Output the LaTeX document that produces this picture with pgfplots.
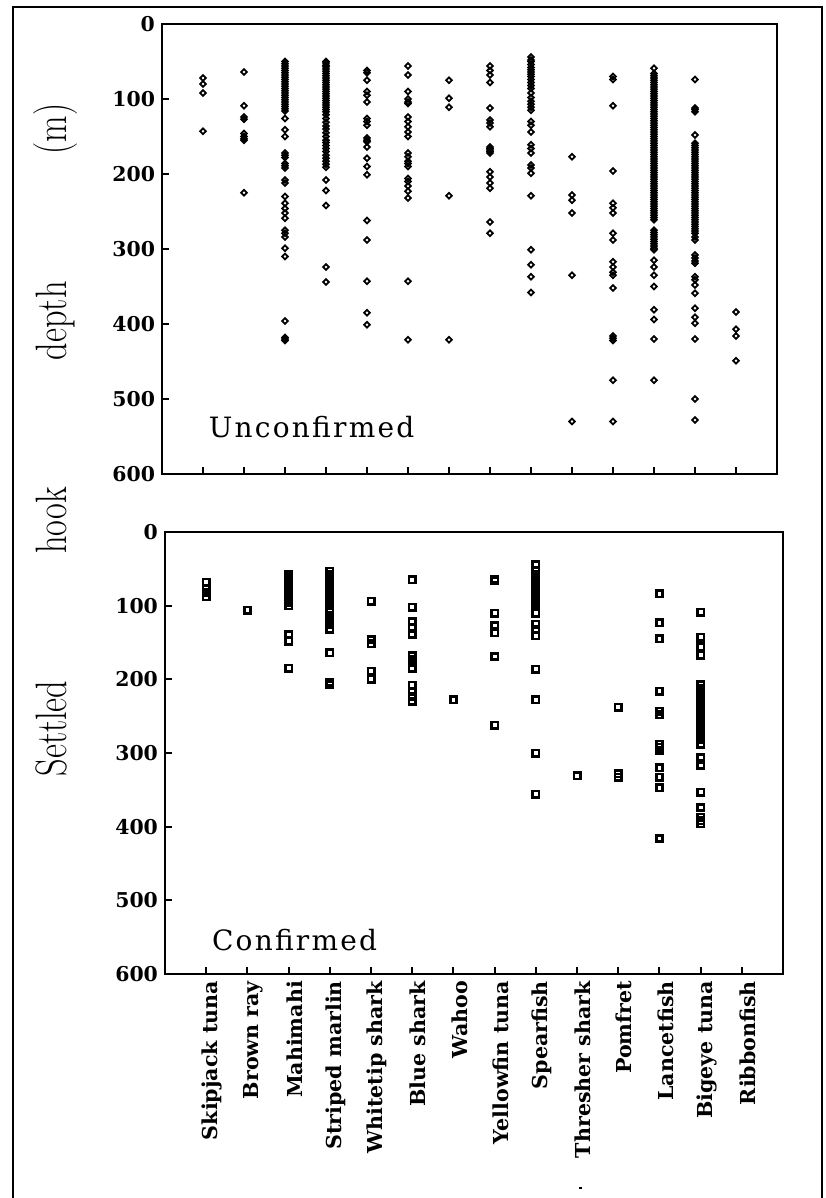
\documentclass[border=0pt]{standalone}
\usepackage{fontspec}
\newfontfamily\dvs{DejaVu Serif}
\newfontfamily\dvsls[LetterSpace=8]{DejaVu Serif}
\newfontfamily\lmr{Latin Modern Roman}
\usepackage{graphicx}
\usepackage{pgfplots}
\pgfplotsset{compat=1.18}
\pgfplotsset{panel/.style={
  scale only axis, xmin=0, xmax=15, ymin=0, ymax=600, y dir=reverse,
  xtick={1,...,14}, ytick={0,100,...,600},
  tick align=inside, xtick pos=bottom, ytick pos=left,
  major tick length=3.5pt,
  axis line style={line width=1.3pt},
  every tick/.style={line width=1pt, black},
  /pgf/number format/assume math mode=true,
  yticklabel style={font=\dvs\bfseries\fontsize{10.2}{12}\selectfont},
  clip=false}}
\pgfplotsset{dia/.style={only marks, mark=square, mark size=1.0pt,
  mark options={solid, rotate=45, line width=0.9pt, draw=black, fill=none}},
  sq/.style={only marks, mark=square, mark size=1.6pt,
  mark options={solid, line width=1.3pt, draw=black, fill=none}}}
\begin{document}
\begin{tikzpicture}
\path[use as bounding box] (0pt,0pt) rectangle (412.5pt,-599pt);
\draw[line width=1.2pt] (6.5pt,-603pt) -- (6.5pt,-3.5pt) -- (411pt,-3.5pt) -- (411pt,-603pt);
\draw[line width=1pt] (289.5pt,-594pt) -- (291pt,-594pt);
\node[rotate=90, font=\lmr\fontsize{22}{26}\selectfont] at (28pt,-220pt) {\scalebox{0.78}[1]{Settled\hspace{3.7em}hook\hspace{3.7em}depth\hspace{3.7em}(m)}};
% ---------------- Unconfirmed ----------------
\begin{axis}[panel, at={(234.75pt,-124.5pt)}, anchor=center, width=307.5pt, height=225pt, xticklabels={}]
\addplot[dia] coordinates {
(1,72)(1,80)(1,92)(1,143)
(2,64)(2,109)(2,124)(2,127)(2,146)(2,150)(2,153)(2,155)(2,225)
(3,50)(3,53)(3,56)(3,59)(3,62)(3,65)(3,68)(3,71)(3,74)(3,77)(3,80)(3,83)(3,86)(3,89)(3,92)(3,95)(3,98)(3,101)(3,104)(3,107)(3,110)(3,113)(3,116)
(3,126)(3,141)(3,150)(3,172)(3,175)(3,178)(3,186)(3,189)(3,192)(3,208)(3,212)(3,230)(3,239)(3,246)(3,252)(3,259)(3,275)(3,279)(3,284)(3,299)(3,310)(3,396)(3,418)(3,420)(3,422)
(4,50)(4,52)(4,55)(4,57)(4,60)(4,63)(4,66)(4,69)(4,72)(4,75)(4,78)(4,81)(4,84)(4,87)(4,90)(4,93)(4,96)(4,99)(4,102)(4,105)(4,108)(4,111)(4,114)(4,117)(4,121)(4,126)(4,131)(4,136)(4,140)(4,145)(4,150)(4,155)(4,158)(4,162)(4,166)(4,170)(4,175)(4,179)(4,183)(4,187)(4,191)(4,208)(4,222)(4,242)(4,324)(4,344)
(5,62)(5,65)(5,75)(5,90)(5,95)(5,104)(5,126)(5,130)(5,135)(5,152)(5,155)(5,157)(5,164)(5,179)(5,190)(5,201)(5,262)(5,288)(5,343)(5,385)(5,401)
(6,56)(6,68)(6,90)(6,100)(6,104)(6,106)(6,124)(6,130)(6,137)(6,144)(6,150)(6,172)(6,177)(6,183)(6,186)(6,190)(6,206)(6,210)(6,216)(6,223)(6,232)(6,343)(6,421)
(7,75)(7,99)(7,111)(7,229)(7,421)
(8,56)(8,62)(8,68)(8,78)(8,112)(8,128)(8,132)(8,137)(8,164)(8,166)(8,168)(8,170)(8,172)(8,197)(8,204)(8,212)(8,219)(8,264)(8,279)
(9,44)(9,48)(9,50)(9,54)(9,58)(9,61)(9,64)(9,67)(9,70)(9,74)(9,78)(9,82)(9,86)(9,92)(9,98)(9,103)(9,107)(9,111)(9,115)(9,130)(9,135)(9,144)(9,161)(9,166)(9,172)(9,188)(9,192)(9,199)(9,229)(9,301)(9,321)(9,337)(9,358)
(10,177)(10,228)(10,235)(10,252)(10,335)(10,530)
(11,70)(11,74)(11,109)(11,196)(11,239)(11,245)(11,252)(11,279)(11,288)(11,317)(11,324)(11,331)(11,335)(11,352)(11,416)(11,419)(11,422)(11,475)(11,530)
(12,59)(12,66)(12,69)(12,72)(12,75)(12,78)(12,81)(12,84)(12,87)(12,90)(12,93)(12,96)(12,99)(12,102)(12,105)(12,108)(12,111)(12,114)(12,117)(12,120)(12,123)(12,126)(12,129)(12,132)(12,135)(12,138)(12,141)(12,144)(12,147)(12,150)(12,153)(12,156)(12,159)(12,162)(12,165)(12,168)(12,171)(12,174)(12,177)(12,180)(12,183)(12,186)(12,189)(12,192)(12,195)(12,198)(12,201)(12,204)(12,207)(12,210)(12,213)(12,216)(12,219)(12,222)(12,225)(12,228)(12,231)(12,234)(12,237)(12,240)(12,243)(12,246)(12,249)(12,252)(12,255)(12,258)(12,261)
(12,275)(12,278)(12,281)(12,284)(12,287)(12,290)(12,293)(12,296)(12,299)(12,301)(12,315)(12,324)(12,335)(12,350)(12,381)(12,394)(12,420)(12,475)
(13,74)(13,112)(13,114)(13,117)(13,148)(13,159)(13,162)(13,165)(13,168)(13,171)(13,174)(13,177)(13,180)(13,183)(13,186)(13,189)(13,192)(13,195)(13,198)(13,201)(13,204)(13,207)(13,210)(13,213)(13,216)(13,219)(13,222)(13,225)(13,228)(13,231)(13,234)(13,237)(13,240)(13,243)(13,246)(13,249)(13,252)(13,255)(13,258)(13,261)(13,264)(13,267)(13,270)(13,273)(13,276)(13,279)
(13,284)(13,288)(13,308)(13,312)(13,316)(13,319)(13,337)(13,341)(13,348)(13,359)(13,379)(13,391)(13,399)(13,420)(13,500)(13,528)
(14,384)(14,407)(14,416)(14,449)
};
\node[anchor=base west, font=\dvsls\fontsize{14}{16}\selectfont] at (axis cs:0.97,551) {Unconfirmed};
\end{axis}
% ---------------- Confirmed ----------------
\begin{axis}[panel, at={(237pt,-376.5pt)}, anchor=center, width=309pt, height=221pt,
  xticklabels={Skipjack tuna, Brown ray, Mahimahi, Striped marlin, Whitetip shark, Blue shark, Wahoo, Yellowfin tuna, Spearfish, Thresher shark, Pomfret, Lancetfish, Bigeye tuna, Ribbonfish},
  xticklabel style={rotate=90, anchor=east, yshift=-3pt, font=\dvs\bfseries\fontsize{10.3}{12}\selectfont}]
\addplot[sq] coordinates {
(1,68)(1,76)(1,82)(1,88)
(2,106)
(3,57)(3,60)(3,63)(3,66)(3,69)(3,72)(3,75)(3,78)(3,81)(3,84)(3,87)(3,90)(3,93)(3,96)(3,100)(3,139)(3,148)(3,185)
(4,53)(4,57)(4,60)(4,63)(4,66)(4,69)(4,72)(4,75)(4,78)(4,81)(4,84)(4,87)(4,90)(4,93)(4,96)(4,99)(4,104)(4,109)(4,114)(4,120)(4,126)(4,132)(4,164)(4,204)(4,207)
(5,94)(5,146)(5,152)(5,189)(5,200)
(6,65)(6,102)(6,122)(6,129)(6,139)(6,168)(6,173)(6,177)(6,185)(6,208)(6,216)(6,223)(6,230)
(7,228)
(8,64)(8,66)(8,110)(8,127)(8,137)(8,169)(8,262)
(9,44)(9,52)(9,57)(9,60)(9,63)(9,66)(9,69)(9,72)(9,75)(9,78)(9,81)(9,84)(9,87)(9,90)(9,94)(9,98)(9,110)(9,125)(9,133)(9,141)(9,186)(9,228)(9,300)(9,356)
(10,331)
(11,238)(11,328)(11,333)
(12,84)(12,123)(12,145)(12,216)(12,243)(12,248)(12,288)(12,292)(12,296)(12,320)(12,333)(12,347)(12,416)
(13,109)(13,143)(13,156)(13,167)(13,207)(13,212)(13,218)(13,225)(13,230)(13,236)(13,242)(13,248)(13,254)(13,260)(13,265)(13,270)(13,276)(13,282)(13,288)(13,306)(13,317)(13,353)(13,374)(13,387)(13,392)(13,396)
};
\node[anchor=base west, font=\dvsls\fontsize{14}{16}\selectfont] at (axis cs:0.97,568) {Confirmed};
\end{axis}
\end{tikzpicture}
\end{document}
